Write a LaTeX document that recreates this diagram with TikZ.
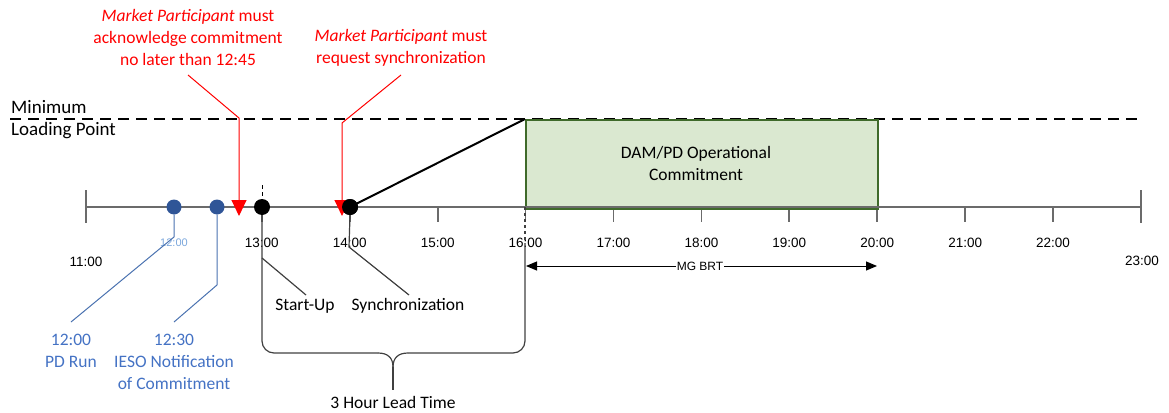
\documentclass[tikz,border=0pt]{standalone}
\usepackage{fontspec}
\setmainfont{Carlito}
\newfontfamily\arialf{Liberation Sans}
\usetikzlibrary{arrows.meta}
\definecolor{axisgray}{HTML}{6B6B6B}
\definecolor{boxfill}{HTML}{DAE8D0}
\definecolor{boxdraw}{HTML}{3F6A2A}
\definecolor{dotblue}{HTML}{2F5597}
\definecolor{lineblue}{HTML}{4A72B0}
\definecolor{textblue}{HTML}{4472C4}
\definecolor{lightblue}{HTML}{7BA7DC}
\definecolor{callgray}{HTML}{404040}
\tikzset{
  maintext/.style={inner sep=0pt, align=center, font=\fontsize{17.5}{22}\selectfont},
  redtext/.style={maintext, text=red},
  bluetext/.style={maintext, text=textblue},
  hourlbl/.style={inner sep=0pt, font=\arialf\fontsize{13.5}{16}\selectfont},
  axisline/.style={draw=axisgray, line width=2pt},
  tickline/.style={draw=axisgray, line width=1.8pt},
  redcall/.style={draw=red, line width=1pt},
  bluecall/.style={draw=lineblue, line width=1pt},
  graycall/.style={draw=callgray, line width=1.2pt},
  bluedot/.style={circle, fill=dotblue, minimum size=15pt, inner sep=0pt},
  blackdot/.style={circle, fill=black, minimum size=16pt, inner sep=0pt},
}
\begin{document}
\begin{tikzpicture}[x=1pt,y=-1pt]
\useasboundingbox (0,0) rectangle (1169,412);
% minimum loading point dashed line
\coordinate (mlpL) at (10,119);
\coordinate (mlpR) at (1141,119);
\draw[line width=1.5pt, dash pattern=on 11pt off 7pt] (mlpL) -- (mlpR);
\node[maintext, anchor=west, font=\fontsize{19}{22}\selectfont] (minl) at (11,107) {Minimum};
\node[maintext, anchor=west, font=\fontsize{19}{22}\selectfont] (lpl) at (11,131) {Loading Point};
% green box
\node[draw=boxdraw, fill=boxfill, line width=2pt, minimum width=352pt, minimum height=88pt, inner sep=0pt, anchor=north west] (box) at (525,119) {};
\node[maintext] (boxtxt) at (696,163) {DAM/PD Operational\\Commitment};
% axis
\coordinate (axL) at (86,207);
\coordinate (axR) at (1141,207);
\draw[axisline] (axL) -- (axR);
\draw[tickline] (86,190) -- (86,223);
\draw[tickline] (1141,190) -- (1141,223);
\foreach \h in {13,...,22} {
  \draw[tickline] ({86+(\h-11)*87.917},207) -- ({86+(\h-11)*87.917},222);
}
% redraw box bottom over axis
\draw[boxdraw, line width=2pt] (box.south west) -- (box.south east);
% hour labels
\node[hourlbl] (h11) at (86,262) {11:00};
\node[hourlbl, text=lightblue, font=\arialf\fontsize{11}{13}\selectfont] (h12) at (174,243) {12:00};
\foreach \h in {13,...,22} {
  \node[hourlbl] (h\h) at ({86+(\h-11)*87.917},243) {\h:00};
}
\node[hourlbl] (h23) at (1142,261) {23:00};
% 16:00 dashed
\draw[graycall, dashed] (525,207) -- (525,243);
% dots
\node[bluedot] (d1200) at (174,207) {};
\node[bluedot] (d1230) at (217,207) {};
\node[blackdot] (d1300) at (262,207) {};
\node[blackdot] (d1400) at (350,207) {};
% ramp
\draw[black, line width=2pt] (d1400.center) -- (box.north west);
% 13:00 dashed above
\draw[black, line width=1pt, dashed, dash pattern=on 4pt off 3pt] (262,185) -- (d1300.north);
% red callouts
\node[redtext] (red1) at (188,37) {\textit{Market Participant} must\\acknowledge commitment\\no later than 12:45};
\node[redtext] (red2) at (401,48) {\textit{Market Participant} must\\request synchronization};
\coordinate (r1a) at (188,75);
\coordinate (r1b) at (239,118);
\coordinate (r1c) at (239,216);
\coordinate (r2a) at (401,75);
\coordinate (r2b) at (342,123);
\coordinate (r2c) at (342,216);
\draw[redcall, -{Triangle[width=15pt,length=16pt]}] (r1a) -- (r1b) -- (r1c);
\draw[redcall, -{Triangle[width=15pt,length=16pt]}] (r2a) -- (r2b) -- (r2c);
\node[blackdot] at (350,207) {};
% blue callouts
\node[bluetext] (pd) at (71,351) {12:00\\PD Run};
\node[bluetext] (ieso) at (174,362) {12:30\\IESO Notification\\of Commitment};
\draw[bluecall] (d1200.south) -- (174,237) -- (71,322);
\draw[bluecall] (d1230.south) -- (217,285) -- (174,322);
% black callouts
\node[maintext] (su) at (305,306) {Start-Up};
\node[maintext] (syn) at (408,306) {Synchronization};
\draw[graycall] (262,258) -- (306,295);
\draw[graycall] (d1400.south) -- (349,247) -- (409,295);
% brace
\draw[graycall, rounded corners=12pt] (d1300.south) -- (262,353) -- (378,353);
\draw[graycall] (378,353) .. controls (388,353) and (393,358) .. (393,367);
\draw[graycall, rounded corners=12pt] (525,243) -- (525,353) -- (408,353);
\draw[graycall] (408,353) .. controls (398,353) and (393,358) .. (393,367);
\draw[graycall] (393,367) -- (393,390);
\node[maintext] (lead) at (393,402) {3 Hour Lead Time};
% MG BRT
\coordinate (mgL) at (526,266);
\coordinate (mgR) at (877,266);
\draw[black, line width=1pt, {Triangle[width=9pt,length=11pt]}-{Triangle[width=9pt,length=11pt]}] (mgL) -- (mgR);
\node[fill=white, inner sep=1pt, font=\arialf\fontsize{12}{14}\selectfont] (mg) at (700,266) {MG BRT};
\end{tikzpicture}
\end{document}
